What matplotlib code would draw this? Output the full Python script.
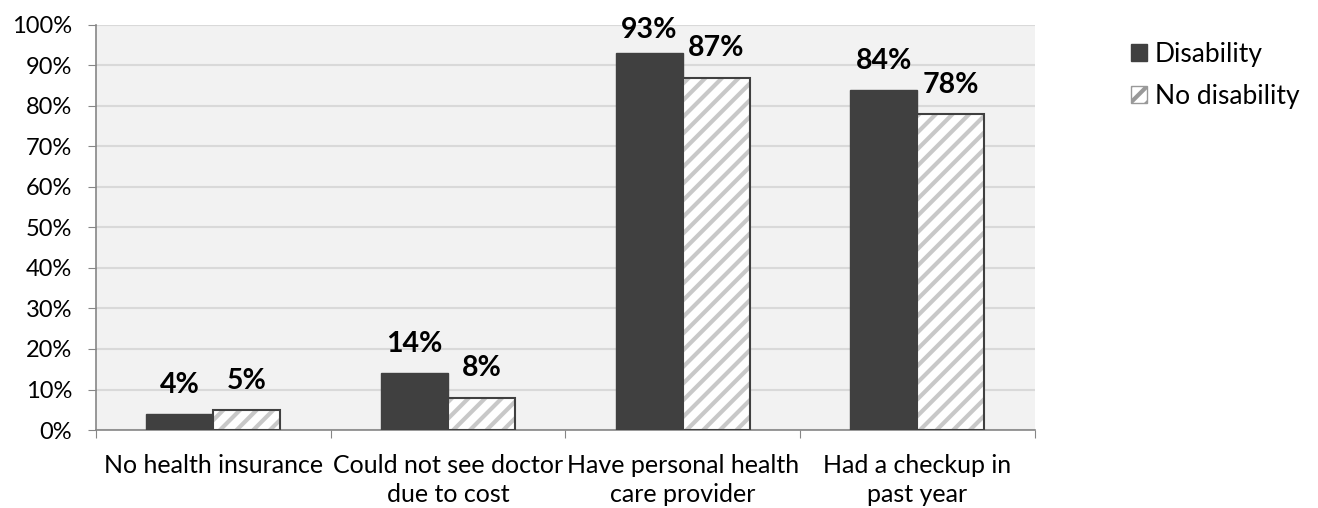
import numpy as np
import matplotlib.pyplot as plt
from matplotlib.patches import Patch

# ---------------------------------------------------------
# data
# ---------------------------------------------------------
categories = ["No health insurance", "Could not see doctor\ndue to cost",
              "Have personal health\ncare provider", "Had a checkup in\npast year"]
disability = [4, 14, 93, 84]
no_disability = [5, 8, 87, 78]
yticks = np.arange(0, 101, 10)

plt.rcParams["font.family"] = ["Lato", "DejaVu Sans"]
plt.rcParams["hatch.linewidth"] = 3.0

fig = plt.figure(figsize=(13.18, 5.08), dpi=100)
ax = fig.add_axes([0.0728, 0.1535, 0.7122, 0.7975])
ax.set_facecolor("#f2f2f2")

x = np.arange(len(categories))
w = 0.285
dark = "#404040"

ax.bar(x - w / 2, disability, w, color=dark, edgecolor=dark, lw=1, zorder=3)
# hatched bars: hatch in light gray, then the outline on top
ax.bar(x + w / 2, no_disability, w, color="white", edgecolor="#c8c8c8",
       hatch="//", lw=0, zorder=3)
ax.bar(x + w / 2, no_disability, w, color="none", edgecolor=dark, lw=1.5, zorder=4)


def label(xs, vals):
    # labels above bars, kept inside the plot area like Excel does
    for xi, v in zip(xs, vals):
        ax.text(xi, min(v + 4, 95.5), f"{v}%", ha="center", va="bottom",
                fontsize=20.5, fontweight="bold", color="black", zorder=5)


label(x - w / 2, disability)
label(x + w / 2, no_disability)

ax.set_xlim(-0.5, len(categories) - 0.5)
ax.set_ylim(0, 100)
ax.set_yticks(yticks)
ax.set_yticklabels([f"{t}%" for t in yticks])
ax.yaxis.grid(True, color="#d9d9d9", lw=1.5, zorder=0)
ax.set_axisbelow(True)

# category labels centred, ticks on the boundaries
ax.set_xticks(np.arange(-0.5, len(categories)))
ax.set_xticklabels([])
ax.set_xticks(x, minor=True)
ax.set_xticklabels(categories, minor=True, fontsize=18, linespacing=1.35)
ax.tick_params(axis="x", which="minor", length=0, pad=17)
ax.tick_params(axis="x", which="major", length=6, color="#868686", direction="out")
ax.tick_params(axis="y", length=6, color="#868686", labelsize=17, pad=11)

for s in ["top", "right"]:
    ax.spines[s].set_visible(False)
for s in ["left", "bottom"]:
    ax.spines[s].set_color("#868686")
    ax.spines[s].set_linewidth(1.2)

handles = [Patch(facecolor=dark, edgecolor=dark),
           Patch(facecolor="white", edgecolor="#999999", hatch="//")]
fig.legend(handles, ["Disability", "No disability"], loc="upper left",
           bbox_to_anchor=(0.84, 0.965), frameon=False, fontsize=19,
           handlelength=0.6, handleheight=0.6, handletextpad=0.3, labelspacing=0.65)

fig.savefig("out.png", dpi=100)
